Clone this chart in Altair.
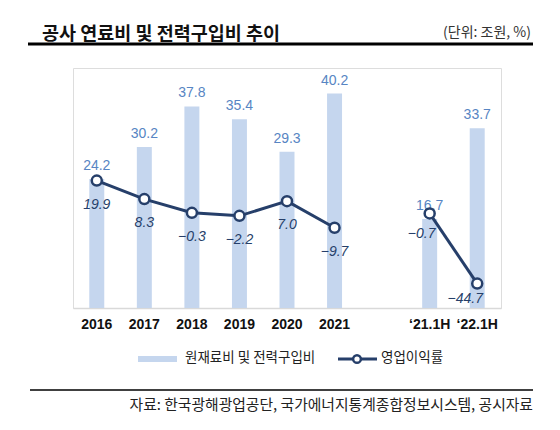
import altair as alt
import pandas as pd

categories = ["2016", "2017", "2018", "2019", "2020", "2021", " ", "\u201821.1H", "\u201822.1H"]
bar_cats = ["2016", "2017", "2018", "2019", "2020", "2021", "\u201821.1H", "\u201822.1H"]
cost = [24.2, 30.2, 37.8, 35.4, 29.3, 40.2, 16.7, 33.7]
margin = [19.9, 8.3, -0.3, -2.2, 7.0, -9.7, -0.7, -44.7]
segment = ["연간", "연간", "연간", "연간", "연간", "연간", "반기", "반기"]

df = pd.DataFrame({"cat": bar_cats, "cost": cost, "margin": margin, "seg": segment})

BAR = "#c5d6ee"
BLUE_TXT = "#5785c3"
NAVY = "#263f6a"
KR = "Noto Sans CJK KR"
NUM = "Liberation Sans"

xenc = alt.X("cat:N", sort=categories,
             scale=alt.Scale(domain=categories, paddingInner=0.685, paddingOuter=0.3425),
             axis=alt.Axis(title=None, labelAngle=0, ticks=False, domainColor="#d9d9d9",
                           domainWidth=1.5, labelFont=NUM, labelFontSize=14,
                           labelFontWeight="bold", labelColor="#111111", labelPadding=9,
                           grid=False))

ybar = alt.Y("cost:Q", scale=alt.Scale(domain=[0, 45]), axis=None)
yline = alt.Y("margin:Q", scale=alt.Scale(domain=[-60, 90.5]), axis=None)

base = alt.Chart(df)
bars = base.mark_bar(color=BAR).encode(x=xenc, y=ybar)
bar_lbl = base.mark_text(font=NUM, fontSize=14, color=BLUE_TXT, baseline="middle", dy=-13).encode(
    x=alt.X("cat:N", sort=categories), y=ybar, text=alt.Text("cost:Q", format=".1f"))

line = base.mark_line(color=NAVY, strokeWidth=3).encode(
    x=alt.X("cat:N", sort=categories), y=yline, detail="seg:N")
pts = base.mark_point(shape="circle", filled=True, fill="white", stroke=NAVY, strokeWidth=2.5,
                      size=100, opacity=1).encode(x=alt.X("cat:N", sort=categories), y=yline)

def fmt_lbl(dx, dy, cats):
    return base.transform_filter(alt.FieldOneOfPredicate(field="cat", oneOf=cats)).mark_text(
        font=NUM, fontSize=14, fontStyle="italic", color=NAVY, baseline="middle", dx=dx, dy=dy
    ).encode(x=alt.X("cat:N", sort=categories), y=yline,
             text=alt.Text("margin:Q", format=".1f"))

lbl_a = fmt_lbl(0, 24, categories[:6])
lbl_b = fmt_lbl(-8, 21, [categories[7]])
lbl_c = fmt_lbl(-12, 15, [categories[8]])

one = pd.DataFrame({"k": [0]})
d = alt.Chart(one)

title = d.mark_text(text="공사 연료비 및 전력구입비 추이", font=KR, fontSize=18.5, fontWeight="bold",
                    align="left", baseline="middle", color="#111111").encode(
    x=alt.value(-31), y=alt.value(-34))
unit = d.mark_text(text="(단위: 조원, %)", font=KR, fontSize=14, align="right",
                   baseline="middle", color="#333333").encode(x=alt.value(458), y=alt.value(-35))
top_rule = d.mark_rule(color="#000000", strokeWidth=3).encode(
    x=alt.value(-45), x2=alt.value(460), y=alt.value(-24))

leg_rect = d.mark_rule(color=BAR, strokeWidth=6).encode(
    x=alt.value(65), x2=alt.value(104), y=alt.value(291))
leg_t1 = d.mark_text(text="원재료비 및 전력구입비", font=KR, fontSize=13.5, align="left",
                     baseline="middle", color="#222222").encode(x=alt.value(112), y=alt.value(290))
leg_line = d.mark_rule(color=NAVY, strokeWidth=3).encode(
    x=alt.value(265), x2=alt.value(304), y=alt.value(291))
leg_pt = d.mark_point(shape="circle", filled=True, fill="white", stroke=NAVY, strokeWidth=2.5,
                      size=60, opacity=1).encode(x=alt.value(284), y=alt.value(291))
leg_t2 = d.mark_text(text="영업이익률", font=KR, fontSize=13.5, align="left",
                     baseline="middle", color="#222222").encode(x=alt.value(308), y=alt.value(290))

foot_rule = d.mark_rule(color="#000000", strokeWidth=1.5).encode(
    x=alt.value(-43), x2=alt.value(460), y=alt.value(322))
foot = d.mark_text(text="자료: 한국광해광업공단, 국가에너지통계종합정보시스템, 공시자료", font=KR,
                   fontSize=14.8, align="right", baseline="middle", color="#222222").encode(
    x=alt.value(460), y=alt.value(338))

chart = alt.layer(
    bars, bar_lbl, line, pts, lbl_a, lbl_b, lbl_c,
    title, unit, top_rule, leg_rect, leg_t1, leg_line, leg_pt, leg_t2, foot_rule, foot
).resolve_scale(y="independent").properties(
    width=428, height=240,
    autosize=alt.AutoSizeParams(type="none"),
    padding={"left": 65, "top": 60, "right": 36, "bottom": 108},
).configure_view(stroke=None).configure(background="white")

chart.save("out.html", embed_options={"renderer": "svg", "actions": False})
